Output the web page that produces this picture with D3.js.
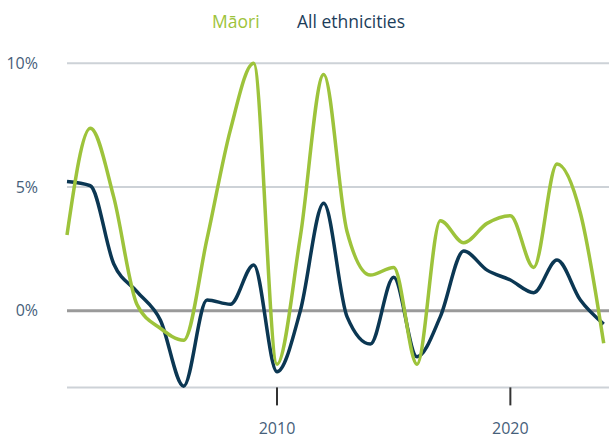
<!DOCTYPE html>
<html>
<head>
<meta charset="utf-8">
<script src="https://cdn.jsdelivr.net/npm/d3@7"></script>
<style>
  html, body { margin: 0; padding: 0; background: #fff; }
  svg { display: block; font-family: "Open Sans", sans-serif; }
</style>
</head>
<body>
<svg id="chart" width="609" height="440"></svg>
<script>
const years = d3.range(2001, 2025);
const maori = [3.06, 7.37, 4.6, 0.25, -0.71, -1.19, 2.9, 7.3, 10.0, -2.16, 3.0, 9.55,
               3.2, 1.44, 1.75, -2.16, 3.64, 2.75, 3.53, 3.84, 1.75, 5.93, 3.95, -1.32];
const allEth = [5.22, 5.05, 1.9, 0.77, -0.38, -3.05, 0.43, 0.26, 1.85, -2.47, 0.0, 4.34,
                -0.24, -1.35, 1.35, -1.86, -0.24, 2.41, 1.64, 1.24, 0.73, 2.05, 0.43, -0.54];
const yTicks = [0, 5, 10];
const xTicks = [2010, 2020];
const seriesNames = ["Māori", "All ethnicities"];
const colors = ["#9dc33b", "#0b3753"];

const svg = d3.select("#chart");
const x = d3.scaleLinear().domain([2001, 2024]).range([67, 603.7]);
const y = d3.scaleLinear().domain([0, 10]).range([310.7, 63.3]);
const yBottom = y(-3.1);

// gridlines
svg.append("g").selectAll("line").data(yTicks.filter(d => d !== 0)).join("line")
  .attr("x1", 67).attr("x2", 609)
  .attr("y1", d => y(d)).attr("y2", d => y(d))
  .attr("stroke", "#cdd2d7").attr("stroke-width", 2);
svg.append("line").attr("x1", 67).attr("x2", 609)
  .attr("y1", yBottom).attr("y2", yBottom)
  .attr("stroke", "#cdd2d7").attr("stroke-width", 2);

// y labels
svg.append("g").selectAll("text").data(yTicks).join("text")
  .attr("x", 38).attr("y", d => y(d)).attr("dy", "0.35em")
  .attr("text-anchor", "end").attr("font-size", 16).attr("fill", "#46607a")
  .text(d => d + "%");

// x axis ticks
const xg = svg.append("g");
xg.selectAll("line").data(xTicks).join("line")
  .attr("x1", d => x(d)).attr("x2", d => x(d))
  .attr("y1", yBottom).attr("y2", yBottom + 18)
  .attr("stroke", "#333").attr("stroke-width", 2);
xg.selectAll("text").data(xTicks).join("text")
  .attr("x", d => x(d)).attr("y", 428).attr("dy", "0.35em")
  .attr("text-anchor", "middle").attr("font-size", 16).attr("fill", "#46607a")
  .text(d => d);

// zero line
svg.append("line").attr("x1", 67).attr("x2", 609)
  .attr("y1", y(0)).attr("y2", y(0))
  .attr("stroke", "#9a9a9a").attr("stroke-width", 3);

const line = d3.line().x((d, i) => x(years[i])).y(d => y(d)).curve(d3.curveMonotoneX);

svg.append("path").datum(allEth).attr("d", line)
  .attr("fill", "none").attr("stroke", colors[1]).attr("stroke-width", 3.5)
  .attr("stroke-linejoin", "round");
svg.append("path").datum(maori).attr("d", line)
  .attr("fill", "none").attr("stroke", colors[0]).attr("stroke-width", 3.5)
  .attr("stroke-linejoin", "round");

// legend
const legX = [212, 297];
svg.append("g").selectAll("text").data(seriesNames).join("text")
  .attr("x", (d, i) => legX[i]).attr("y", 21.7).attr("dy", "0.35em")
  .attr("font-size", 17.5).attr("fill", (d, i) => i === 0 ? "#9dc33b" : "#1c3d5a")
  .text(d => d);
</script>
</body>
</html>
